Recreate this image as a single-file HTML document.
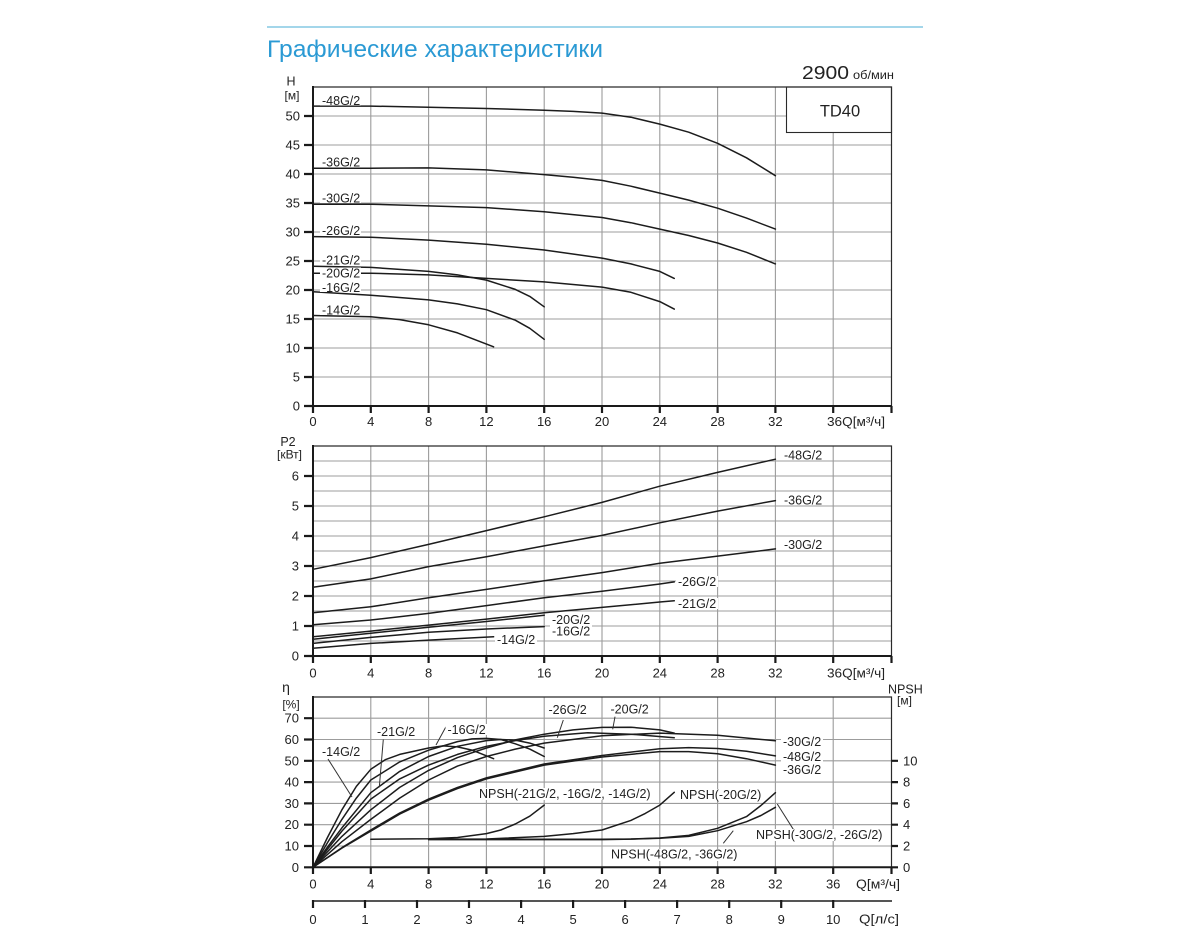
<!DOCTYPE html>
<html><head><meta charset="utf-8"><style>
html,body{margin:0;padding:0;background:#fff;}
svg{display:block;}
text{font-family:"Liberation Sans",Arial,sans-serif;fill:#222;}
.t{font-size:13px;}
.l{font-size:12.5px;}
.g{stroke:#9c9c9c;stroke-width:1.1;fill:none;}
.c{stroke:#1c1c1c;stroke-width:1.5;fill:none;stroke-linejoin:round;stroke-linecap:round;}
.ax{stroke:#1a1a1a;stroke-width:2;fill:none;}
.bd{stroke:#2a2a2a;stroke-width:1.2;fill:none;}
.tk{stroke:#1a1a1a;stroke-width:2.2;}
.ld{stroke:#333;stroke-width:1;fill:none;}
</style></head><body>
<svg width="1200" height="950" viewBox="0 0 1200 950" xmlns="http://www.w3.org/2000/svg">
<rect width="1200" height="950" fill="#fff"/>
<!-- header -->
<line x1="267" y1="27" x2="923" y2="27" stroke="#a3d6ea" stroke-width="2"/>
<text x="267" y="57" style="font-size:24px;fill:#2b9ad4" textLength="336" lengthAdjust="spacingAndGlyphs">Графические характеристики</text>
<text x="802" y="79" style="font-size:18px" textLength="47" lengthAdjust="spacingAndGlyphs">2900</text>
<text x="853" y="79" style="font-size:12px" textLength="41" lengthAdjust="spacingAndGlyphs">об/мин</text>

<!-- ================= TOP CHART ================= -->
<g class="g">
<path d="M313,377H891.5M313,348H891.5M313,319H891.5M313,290H891.5M313,261H891.5M313,232H891.5M313,203H891.5M313,174H891.5M313,145H891.5M313,116H891.5"/>
<path d="M370.8,87V406M428.6,87V406M486.4,87V406M544.2,87V406M602,87V406M659.8,87V406M717.6,87V406M775.4,87V406M833.2,87V406"/>
</g>
<rect x="786.5" y="87" width="105" height="45.5" fill="#fff" stroke="#2a2a2a" stroke-width="1.1"/>
<text x="840" y="116.5" text-anchor="middle" style="font-size:16.5px">TD40</text>
<path class="bd" d="M313,87H891.5V406"/>
<path class="ax" d="M313,86V406H892"/>
<g class="tk">
<path d="M304,406H313M304,377H313M304,348H313M304,319H313M304,290H313M304,261H313M304,232H313M304,203H313M304,174H313M304,145H313M304,116H313"/>
<path d="M313,406V413M370.8,406V413M428.6,406V413M486.4,406V413M544.2,406V413M602,406V413M659.8,406V413M717.6,406V413M775.4,406V413M833.2,406V413M891.5,406V413"/>
</g>
<g class="t" text-anchor="end">
<text x="300" y="410.5">0</text><text x="300" y="381.5">5</text><text x="300" y="352.5">10</text><text x="300" y="323.5">15</text><text x="300" y="294.5">20</text><text x="300" y="265.5">25</text><text x="300" y="236.5">30</text><text x="300" y="207.5">35</text><text x="300" y="178.5">40</text><text x="300" y="149.5">45</text><text x="300" y="120.5">50</text>
</g>
<g class="t" text-anchor="middle">
<text x="313" y="426">0</text><text x="370.8" y="426">4</text><text x="428.6" y="426">8</text><text x="486.4" y="426">12</text><text x="544.2" y="426">16</text><text x="602" y="426">20</text><text x="659.8" y="426">24</text><text x="717.6" y="426">28</text><text x="775.4" y="426">32</text>
</g>
<text class="t" x="827" y="426" textLength="58" lengthAdjust="spacingAndGlyphs">36Q[м³/ч]</text>
<text x="291" y="85.5" text-anchor="middle" style="font-size:12.5px">H</text>
<text x="292" y="99.5" text-anchor="middle" style="font-size:12px">[м]</text>
<g class="c">
<polyline points="313,106.1 370.8,106.1 428.6,107.3 486.4,108.5 544.2,110.2 573.1,111.4 602,113.1 630.9,117.2 659.8,124.1 688.7,132.2 717.6,143.3 746.5,157.8 775.4,175.7"/>
<polyline points="313,168.2 370.8,168.2 428.6,167.9 486.4,169.9 544.2,174.6 573.1,177.3 602,180.4 630.9,186.2 659.8,193.1 688.7,200.1 717.6,208.2 746.5,218.1 775.4,229.1"/>
<polyline points="313,204.2 370.8,204.2 428.6,205.9 486.4,207.6 544.2,211.7 602,217.5 630.9,222.7 659.8,229.1 688.7,235.5 717.6,243.0 746.5,252.3 775.4,263.9"/>
<polyline points="313,236.6 370.8,237.2 428.6,240.1 486.4,244.2 544.2,250.0 602,258.1 630.9,263.9 659.8,271.4 674.25,278.4"/>
<polyline points="313,266.2 370.8,267.4 428.6,271.4 457.5,274.9 486.4,280.1 515.3,289.4 529.75,296.4 544.2,306.8"/>
<polyline points="313,273.2 370.8,273.2 428.6,274.9 486.4,278.4 544.2,281.9 602,287.1 630.9,292.3 659.8,301.6 674.25,309.1"/>
<polyline points="313,291.7 370.8,295.2 428.6,299.9 457.5,303.9 486.4,309.7 515.3,320.2 529.75,328.3 544.2,339.3"/>
<polyline points="313,315.5 370.8,316.7 399.7,319.6 428.6,324.8 457.5,332.9 493.6,346.8"/>
</g>
<g fill="#fff">
<rect x="320" y="95" width="41" height="10.5"/>
<rect x="320" y="156.7" width="41" height="10.5"/>
<rect x="320" y="192.5" width="41" height="10.5"/>
<rect x="320" y="225" width="41" height="10.5"/>
<rect x="320" y="254.5" width="41" height="10.5"/>
<rect x="320" y="267.5" width="41" height="10.5"/>
<rect x="320" y="282" width="41" height="10"/>
<rect x="320" y="304.5" width="41" height="10.5"/>
</g>
<g class="l">
<text x="322" y="105">-48G/2</text>
<text x="322" y="166.7">-36G/2</text>
<text x="322" y="202.5">-30G/2</text>
<text x="322" y="235">-26G/2</text>
<text x="322" y="264.5">-21G/2</text>
<text x="322" y="277.5">-20G/2</text>
<text x="322" y="292">-16G/2</text>
<text x="322" y="314.5">-14G/2</text>
</g>

<!-- ================= MIDDLE CHART ================= -->
<g class="g">
<path d="M313,641H891.5M313,626H891.5M313,611H891.5M313,596H891.5M313,581H891.5M313,566H891.5M313,551H891.5M313,536H891.5M313,521H891.5M313,506H891.5M313,491H891.5M313,476H891.5M313,461H891.5"/>
<path d="M370.8,446V656M428.6,446V656M486.4,446V656M544.2,446V656M602,446V656M659.8,446V656M717.6,446V656M775.4,446V656M833.2,446V656"/>
</g>
<path class="bd" d="M313,446H891.5V656"/>
<path class="ax" d="M313,445V656H892"/>
<g class="tk">
<path d="M304,656H313M304,626H313M304,596H313M304,566H313M304,536H313M304,506H313M304,476H313"/>
<path d="M313,656V663M370.8,656V663M428.6,656V663M486.4,656V663M544.2,656V663M602,656V663M659.8,656V663M717.6,656V663M775.4,656V663M833.2,656V663M891.5,656V663"/>
</g>
<g class="t" text-anchor="end">
<text x="299" y="660.5">0</text><text x="299" y="630.5">1</text><text x="299" y="600.5">2</text><text x="299" y="570.5">3</text><text x="299" y="540.5">4</text><text x="299" y="510.5">5</text><text x="299" y="480.5">6</text>
</g>
<g class="t" text-anchor="middle">
<text x="313" y="677.5">0</text><text x="370.8" y="677.5">4</text><text x="428.6" y="677.5">8</text><text x="486.4" y="677.5">12</text><text x="544.2" y="677.5">16</text><text x="602" y="677.5">20</text><text x="659.8" y="677.5">24</text><text x="717.6" y="677.5">28</text><text x="775.4" y="677.5">32</text>
</g>
<text class="t" x="827" y="677.5" textLength="58" lengthAdjust="spacingAndGlyphs">36Q[м³/ч]</text>
<text x="288" y="446" text-anchor="middle" style="font-size:12.5px">P2</text>
<text x="289.5" y="458.5" text-anchor="middle" style="font-size:12px">[кВт]</text>
<g class="c">
<polyline points="313,569.3 370.8,557.6 428.6,544.4 486.4,530.6 544.2,516.8 602,502.4 659.8,486.2 717.6,472.4 775.4,459.2"/>
<polyline points="313,587.3 370.8,578.9 428.6,566.6 486.4,556.7 544.2,545.9 602,535.4 659.8,522.8 717.6,511.1 775.4,500.6"/>
<polyline points="313,612.8 370.8,606.8 428.6,597.8 486.4,589.4 544.2,580.7 602,572.6 659.8,563.3 717.6,556.1 775.4,548.9"/>
<polyline points="313,624.8 370.8,620 428.6,613.4 486.4,605.6 544.2,597.8 602,591.2 659.8,584 674.25,581.9"/>
<polyline points="313,636.8 370.8,631.1 428.6,625.1 486.4,619.1 544.2,612.8 602,607.4 659.8,602 674.25,600.8"/>
<polyline points="313,639.2 370.8,633.2 428.6,627.2 486.4,621.5 544.2,615.2"/>
<polyline points="313,643.4 370.8,637.4 428.6,632.3 486.4,629 544.2,626.6"/>
<polyline points="313,648.2 370.8,643.4 428.6,640.1 493.6,636.8"/>
</g>
<g fill="#fff">
<rect x="782" y="449.5" width="42" height="11"/>
<rect x="782" y="494.5" width="42" height="11"/>
<rect x="782" y="539" width="42" height="11"/>
<rect x="676" y="576" width="42" height="11"/>
<rect x="676" y="598" width="42" height="11"/>
<rect x="550" y="614" width="42" height="11"/>
<rect x="550" y="625.5" width="42" height="11"/>
<rect x="495" y="634" width="42" height="11"/>
</g>
<g class="l">
<text x="784" y="459.5">-48G/2</text>
<text x="784" y="504.5">-36G/2</text>
<text x="784" y="549">-30G/2</text>
<text x="678" y="586">-26G/2</text>
<text x="678" y="608">-21G/2</text>
<text x="552" y="623.8">-20G/2</text>
<text x="552" y="635.5">-16G/2</text>
<text x="497" y="643.8">-14G/2</text>
</g>

<!-- ================= BOTTOM CHART ================= -->
<g class="g">
<path d="M313,846H891.5M313,824.7H891.5M313,803.4H891.5M313,782.1H891.5M313,760.8H891.5M313,739.5H891.5M313,718.2H891.5"/>
<path d="M370.8,697V867M428.6,697V867M486.4,697V867M544.2,697V867M602,697V867M659.8,697V867M717.6,697V867M775.4,697V867M833.2,697V867"/>
</g>
<path class="bd" d="M313,697H891.5V867"/>
<path class="ax" d="M313,696V867.3H892"/>
<g class="tk">
<path d="M304,867.3H313M304,846H313M304,824.7H313M304,803.4H313M304,782.1H313M304,760.8H313M304,739.5H313M304,718.2H313"/>
<path d="M891.5,867.3H898M891.5,846H898M891.5,824.7H898M891.5,803.4H898M891.5,782.1H898M891.5,760.8H898"/>
<path d="M313,867V874M370.8,867V874M428.6,867V874M486.4,867V874M544.2,867V874M602,867V874M659.8,867V874M717.6,867V874M775.4,867V874M833.2,867V874M891.5,867V874"/>
</g>
<g class="t" text-anchor="end">
<text x="299" y="871.8">0</text><text x="299" y="850.5">10</text><text x="299" y="829.2">20</text><text x="299" y="807.9">30</text><text x="299" y="786.6">40</text><text x="299" y="765.3">50</text><text x="299" y="744">60</text><text x="299" y="722.7">70</text>
</g>
<g class="t">
<text x="903" y="871.8">0</text><text x="903" y="850.5">2</text><text x="903" y="829.2">4</text><text x="903" y="807.9">6</text><text x="903" y="786.6">8</text><text x="903" y="765.3">10</text>
</g>
<g class="t" text-anchor="middle">
<text x="313" y="888.5">0</text><text x="370.8" y="888.5">4</text><text x="428.6" y="888.5">8</text><text x="486.4" y="888.5">12</text><text x="544.2" y="888.5">16</text><text x="602" y="888.5">20</text><text x="659.8" y="888.5">24</text><text x="717.6" y="888.5">28</text><text x="775.4" y="888.5">32</text><text x="833.2" y="888.5">36</text>
</g>
<text class="t" x="856" y="888.5" textLength="44" lengthAdjust="spacingAndGlyphs">Q[м³/ч]</text>
<text x="286" y="692" text-anchor="middle" style="font-size:14px">η</text>
<text x="291" y="708.5" text-anchor="middle" style="font-size:12px">[%]</text>
<text x="888" y="693.5" style="font-size:12.5px">NPSH</text>
<text x="897" y="704.5" style="font-size:12px">[м]</text>

<!-- l/s axis -->
<path d="M313,901H892" stroke="#555" stroke-width="2"/>
<path class="tk" d="M313,900V908M365,900V908M417,900V908M469,900V908M521.1,900V908M573.1,900V908M625.1,900V908M677.1,900V908M729.2,900V908M781.2,900V908M833.2,900V908"/>
<g class="t" text-anchor="middle">
<text x="313" y="924">0</text><text x="365" y="924">1</text><text x="417" y="924">2</text><text x="469" y="924">3</text><text x="521.1" y="924">4</text><text x="573.1" y="924">5</text><text x="625.1" y="924">6</text><text x="677.1" y="924">7</text><text x="729.2" y="924">8</text><text x="781.2" y="924">9</text><text x="833.2" y="924">10</text>
</g>
<text class="t" x="859" y="923.5" textLength="40" lengthAdjust="spacingAndGlyphs">Q[л/с]</text>

<!-- efficiency curves -->
<g class="c">
<polyline points="313,867.3 327.45,837.5 341.9,809.8 356.35,786.4 370.8,769.3 385.25,759.7 399.7,754.4 428.6,748.0 443.05,745.9 457.5,746.9 471.95,750.1 493.6,758.7"/>
<polyline points="313,867.3 327.45,842.8 341.9,819.4 356.35,798.1 370.8,780.0 399.7,761.9 428.6,750.2 457.5,741.6 471.95,738.9 486.4,738.4 500.85,739.5 515.3,743.8 529.75,749.1 544.2,756.5"/>
<polyline points="313,867.3 327.45,847.1 341.9,827.9 370.8,792.7 399.7,771.4 428.6,756.5 457.5,746.3 486.4,740.6 500.85,739.5 515.3,740.1 529.75,743.1 544.2,748.0"/>
<polyline points="313,867.3 341.9,831.1 370.8,799.1 399.7,778.9 428.6,765.1 457.5,754.4 486.4,746.3 515.3,740.6 544.2,736.3 587.55,732.7 630.9,734.2 674.25,737.8"/>
<polyline points="313,867.3 341.9,836.4 370.8,809.8 399.7,787.4 428.6,770.4 457.5,757.6 486.4,748.0 515.3,739.9 544.2,734.2 573.1,729.9 602,727.4 630.9,727.2 659.8,729.9 674.25,733.1"/>
<polyline points="313,867.3 341.9,841.7 370.8,819.4 399.7,798.1 428.6,780.0 457.5,766.1 486.4,756.5 515.3,749.1 544.2,743.1 602,735.7 659.8,733.1 717.6,735.2 775.4,740.8"/>
<polyline points="313,867.3 341.9,847.7 370.8,830.0 399.7,813.0 428.6,799.1 457.5,787.4 486.4,777.8 544.2,764.0 602,755.5 659.8,748.7 688.7,747.6 717.6,748.5 746.5,751.2 775.4,755.9"/>
<polyline points="313,867.3 341.9,848.1 370.8,831.1 399.7,814.1 428.6,800.2 457.5,788.5 486.4,778.9 544.2,765.1 602,757.0 659.8,751.6 688.7,751.6 717.6,753.8 746.5,758.7 775.4,765.1"/>
<!-- NPSH -->
<polyline points="370.8,839.2 428.6,838.8 457.5,837.5 486.4,833.6 500.85,830.0 515.3,824.0 529.75,816.2 544.2,805.1"/>
<polyline points="428.6,839.2 486.4,839.0 544.2,836.4 573.1,833.6 602,830.0 630.9,820.4 645.35,813.4 659.8,805.1 674.25,792.3"/>
<polyline points="428.6,839.2 602,839.2 630.9,839.0 659.8,838.0 688.7,835.4 717.6,828.3 746.5,816.6 760.95,805.5 775.4,792.7"/>
<polyline points="428.6,839.6 602,839.6 630.9,839.1 659.8,838.3 688.7,836.4 717.6,830.7 746.5,821.7 760.95,815.5 775.4,807.3"/>
</g>
<!-- leaders -->
<g class="ld">
<path d="M328,759L352,797"/>
<path d="M383.3,739.5L379.3,787.3"/>
<path d="M447.3,724.3L436,745"/>
<path d="M563.3,720L557.3,737.7"/>
<path d="M615,716.7L612.7,729.3"/>
<path d="M777.3,804L793.3,829.3"/>
<path d="M723.3,843.3L733.3,830.7"/>
</g>
<g fill="#fff">
<rect x="320" y="746" width="42" height="11"/>
<rect x="375" y="726" width="42" height="11"/>
<rect x="445.5" y="724" width="42" height="11"/>
<rect x="546.5" y="704" width="42" height="11"/>
<rect x="608.5" y="703.5" width="42" height="11"/>
<rect x="781" y="736" width="42" height="11.5"/>
<rect x="781" y="751" width="42" height="11"/>
<rect x="781" y="763.8" width="42" height="11"/>
<rect x="477" y="788" width="176" height="12"/>
<rect x="678" y="789" width="85" height="12"/>
<rect x="754" y="829" width="130" height="12"/>
<rect x="609" y="849" width="130" height="12"/>
</g>
<g class="l">
<text x="322" y="756">-14G/2</text>
<text x="377" y="736">-21G/2</text>
<text x="447.5" y="734">-16G/2</text>
<text x="548.5" y="714">-26G/2</text>
<text x="610.5" y="713.5">-20G/2</text>
<text x="783" y="746">-30G/2</text>
<text x="783" y="761">-48G/2</text>
<text x="783" y="773.8">-36G/2</text>
<text x="479" y="798">NPSH(-21G/2, -16G/2, -14G/2)</text>
<text x="680" y="798.8">NPSH(-20G/2)</text>
<text x="756" y="838.8">NPSH(-30G/2, -26G/2)</text>
<text x="611" y="858.5">NPSH(-48G/2, -36G/2)</text>
</g>
</svg>
</body></html>
